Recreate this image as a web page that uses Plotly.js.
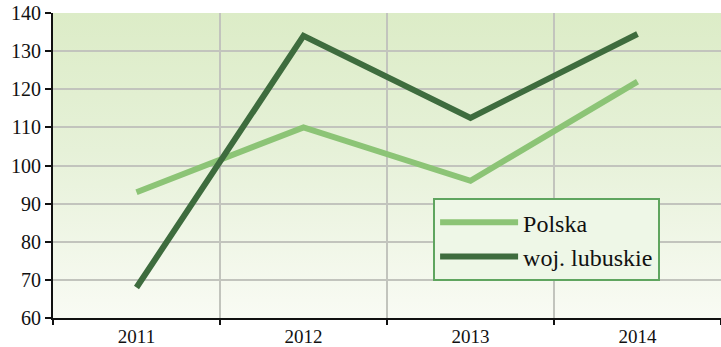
<!DOCTYPE html>
<html>
<head>
<meta charset="utf-8">
<script src="https://cdn.plot.ly/plotly-3.0.1.min.js"></script>
<style>
html,body{margin:0;padding:0;background:#fff;}
#wrap{position:relative;width:721px;height:347px;}
#bg{position:absolute;left:53px;top:13px;width:668px;height:305px;
background:linear-gradient(to bottom,#dcecc7 0%,#e6f1d8 45%,#f9fbf4 100%);}
#chart{position:absolute;left:0;top:0;width:721px;height:347px;}
</style>
</head>
<body>
<div id="wrap"><div id="bg"></div><div id="chart"></div></div>
<script>
var years = ['2011', '2012', '2013', '2014'];
var polska = [93, 110, 96, 122];
var lubuskie = [68, 134, 112.5, 134.5];
var seriesNames = ['Polska', 'woj. lubuskie'];

var font = 'Liberation Serif, Times New Roman, serif';
var traces = [
  {x: years, y: polska, name: seriesNames[0], type: 'scatter', mode: 'lines', legendgroup: 'a',
   line: {color: '#8cc476', width: 6}},
  {x: years, y: lubuskie, name: seriesNames[1], type: 'scatter', mode: 'lines', legendgroup: 'b',
   line: {color: '#3e6c3e', width: 6}}
];
var layout = {
  width: 721, height: 347,
  margin: {l: 53, r: 0, t: 13, b: 29, pad: 0},
  paper_bgcolor: 'rgba(0,0,0,0)',
  plot_bgcolor: 'rgba(0,0,0,0)',
  showlegend: true,
  legend: {
    x: 0.569, y: 0.393, xanchor: 'left', yanchor: 'top',
    bgcolor: '#eef7e7', bordercolor: '#5fa55f', borderwidth: 2,
    font: {family: font, size: 24, color: '#111'},
    traceorder: 'grouped', tracegroupgap: 0, itemwidth: 78
  },
  xaxis: {
    type: 'category', range: [-0.5, 3.5], tickson: 'boundaries',
    showgrid: true, gridcolor: '#c2c4bd', gridwidth: 2,
    showline: true, linecolor: '#111', linewidth: 2,
    ticks: 'outside', ticklen: 5, tickwidth: 2, tickcolor: '#111',
    tickfont: {family: font, size: 19, color: '#111'},
    zeroline: false, fixedrange: true
  },
  yaxis: {
    range: [60, 140], dtick: 10,
    showgrid: true, gridcolor: '#c2c4bd', gridwidth: 2,
    showline: true, linecolor: '#111', linewidth: 2,
    ticks: 'outside', ticklen: 6, tickwidth: 2, tickcolor: '#111',
    tickfont: {family: font, size: 20, color: '#111'},
    zeroline: false, fixedrange: true
  }
};
Plotly.newPlot('chart', traces, layout, {displayModeBar: false, staticPlot: true});
</script>
</body>
</html>
